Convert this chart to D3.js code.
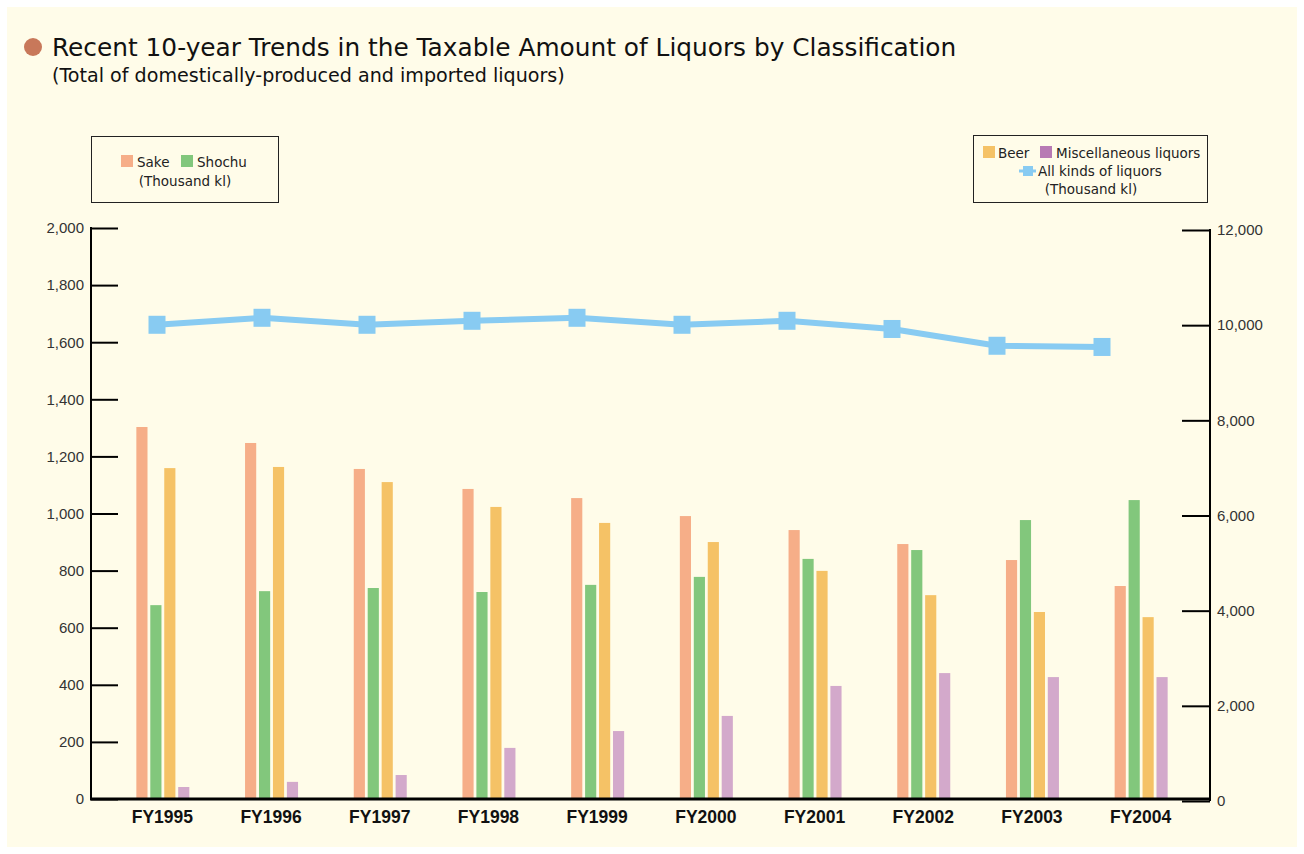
<!DOCTYPE html>
<html>
<head>
<meta charset="utf-8">
<script src="https://cdn.jsdelivr.net/npm/d3@7"></script>
<style>
  body { margin: 0; background: #fff; }
  svg { display: block; font-family: "Liberation Sans", Arial, sans-serif; }
  .wide { font-family: "DejaVu Sans", sans-serif; }
</style>
</head>
<body>
<div id="chart"></div>
<script>
const years = ["FY1995","FY1996","FY1997","FY1998","FY1999","FY2000","FY2001","FY2002","FY2003","FY2004"];
const series = ["Sake","Shochu","Beer","Miscellaneous liquors"];

const sake   = [1303,1247,1156,1086,1054,991,942,893,837,746];
const shochu = [679,728,739,725,750,778,841,872,977,1047];
const beer   = [1159,1163,1110,1023,967,900,799,714,655,637];
const misc   = [42,60,84,179,238,291,396,441,427,427];
const allKinds = [10008,10155,10008,10092,10155,10008,10092,9920,9567,9542];

const leftTicks = [0,200,400,600,800,1000,1200,1400,1600,1800,2000];
const rightTicks = [0,2000,4000,6000,8000,10000,12000];

const barColors = ["#f6ae88","#82c77c","#f5c266","#d3a9cb"];
const legendColors = ["#f6ae88","#82c77c","#f5c266","#b87ab4"];
const lineColor = "#88cbf2";

const width = 1304, height = 854;

const svg = d3.select("#chart").append("svg")
    .attr("width", width)
    .attr("height", height);

svg.append("rect")
    .attr("x", 7).attr("y", 7)
    .attr("width", 1290).attr("height", 840)
    .attr("fill", "#fffce9");

// title
svg.append("circle").attr("cx", 33).attr("cy", 47).attr("r", 9).attr("fill", "#c8785a");
svg.append("text").attr("class", "wide").attr("x", 52).attr("y", 56)
    .style("font-size", "24.8px").attr("fill", "#111")
    .text("Recent 10-year Trends in the Taxable Amount of Liquors by Classification");
svg.append("text").attr("class", "wide").attr("x", 52).attr("y", 82)
    .style("font-size", "19.1px").attr("fill", "#111")
    .text("(Total of domestically-produced and imported liquors)");

const x = d3.scaleBand().domain(years).range([108, 1195]);
const xInner = d3.scaleBand().domain(series).range([-26, 27]).paddingInner(0.2);
const xLine = d3.scalePoint().domain(years).range([157, 1102]);

const yLeft = d3.scaleLinear().domain([0, 2000]).range([799, 228]);
const yRight = d3.scaleLinear().domain([0, 12000]).range([801, 230]);

const rows = years.map((yr, i) => ({year: yr, values: [sake[i], shochu[i], beer[i], misc[i]]}));

// bars
const groups = svg.append("g").selectAll("g")
    .data(rows)
    .join("g")
    .attr("transform", d => `translate(${x(d.year) + x.bandwidth() / 2},0)`);

groups.selectAll("rect")
    .data(d => d.values.map((v, j) => ({key: series[j], v: v, j: j})))
    .join("rect")
    .attr("x", d => xInner(d.key))
    .attr("width", xInner.bandwidth())
    .attr("y", d => yLeft(d.v))
    .attr("height", d => yLeft(0) - yLeft(d.v))
    .attr("fill", d => barColors[d.j]);

// left axis
const leftAxis = svg.append("g")
    .attr("transform", "translate(91,0)")
    .call(d3.axisRight(yLeft).tickValues(leftTicks).tickSize(27).tickFormat(d3.format(",")));
leftAxis.select(".domain").attr("stroke", "#000").attr("stroke-width", 2).attr("d", "M0,227V800");
leftAxis.selectAll(".tick line").attr("stroke", "#000").attr("stroke-width", 2);
leftAxis.selectAll(".tick text")
    .attr("x", -7).attr("text-anchor", "end")
    .style("font-size", "15px").attr("fill", "#333").attr("font-family", null);

// right axis
const rightAxis = svg.append("g")
    .attr("transform", "translate(1210,0)")
    .call(d3.axisLeft(yRight).tickValues(rightTicks).tickSize(28).tickFormat(d3.format(",")));
rightAxis.select(".domain").attr("stroke", "#000").attr("stroke-width", 2).attr("d", "M0,229V801");
rightAxis.selectAll(".tick line").attr("stroke", "#000").attr("stroke-width", 2);
rightAxis.selectAll(".tick text")
    .attr("x", 7).attr("text-anchor", "start")
    .style("font-size", "15px").attr("fill", "#333").attr("font-family", null);

// bottom axis
const bottomAxis = svg.append("g")
    .attr("transform", "translate(0,799)")
    .call(d3.axisBottom(x).tickSize(0).tickPadding(0));
bottomAxis.select(".domain").attr("stroke", "#000").attr("stroke-width", 3).attr("d", "M90,0H1211");
bottomAxis.selectAll(".tick text")
    .attr("y", 24).attr("dy", null)
    .style("font-size", "17.5px").style("font-weight", "bold")
    .attr("fill", "#111").attr("font-family", null);

// line
const line = d3.line()
    .x((d, i) => xLine(years[i]))
    .y(d => yRight(d));

svg.append("path")
    .datum(allKinds)
    .attr("fill", "none")
    .attr("stroke", lineColor)
    .attr("stroke-width", 6)
    .attr("d", line);

svg.append("g").selectAll("rect")
    .data(allKinds)
    .join("rect")
    .attr("x", (d, i) => xLine(years[i]) - 8.5)
    .attr("y", d => yRight(d) - 9)
    .attr("width", 17)
    .attr("height", 18)
    .attr("fill", lineColor);

// legends
const legL = svg.append("g").attr("class", "wide").style("font-size", "13.5px");
legL.append("rect").attr("x", 91.5).attr("y", 136.5).attr("width", 187).attr("height", 66)
    .attr("fill", "none").attr("stroke", "#222").attr("stroke-width", 1);
legL.append("rect").attr("x", 121).attr("y", 155).attr("width", 12).attr("height", 12).attr("fill", legendColors[0]);
legL.append("text").attr("x", 137).attr("y", 167).attr("fill", "#222").text("Sake");
legL.append("rect").attr("x", 181).attr("y", 155).attr("width", 12).attr("height", 12).attr("fill", legendColors[1]);
legL.append("text").attr("x", 197).attr("y", 167).attr("fill", "#222").text("Shochu");
legL.append("text").attr("x", 185).attr("y", 186).attr("text-anchor", "middle").attr("fill", "#222").text("(Thousand kl)");

const legR = svg.append("g").attr("class", "wide").style("font-size", "13.5px");
legR.append("rect").attr("x", 973.5).attr("y", 135.5).attr("width", 234).attr("height", 67)
    .attr("fill", "none").attr("stroke", "#222").attr("stroke-width", 1);
legR.append("rect").attr("x", 983).attr("y", 146).attr("width", 12).attr("height", 12).attr("fill", legendColors[2]);
legR.append("text").attr("x", 998).attr("y", 158).attr("fill", "#222").text("Beer");
legR.append("rect").attr("x", 1040).attr("y", 146).attr("width", 12).attr("height", 12).attr("fill", legendColors[3]);
legR.append("text").attr("x", 1056).attr("y", 158).attr("fill", "#222").text("Miscellaneous liquors");
legR.append("line").attr("x1", 1019).attr("x2", 1036).attr("y1", 171).attr("y2", 171)
    .attr("stroke", lineColor).attr("stroke-width", 3);
legR.append("rect").attr("x", 1023).attr("y", 166).attr("width", 10).attr("height", 10).attr("fill", lineColor);
legR.append("text").attr("x", 1038).attr("y", 176).attr("fill", "#222").text("All kinds of liquors");
legR.append("text").attr("x", 1091).attr("y", 194).attr("text-anchor", "middle").attr("fill", "#222").text("(Thousand kl)");
</script>
</body>
</html>
